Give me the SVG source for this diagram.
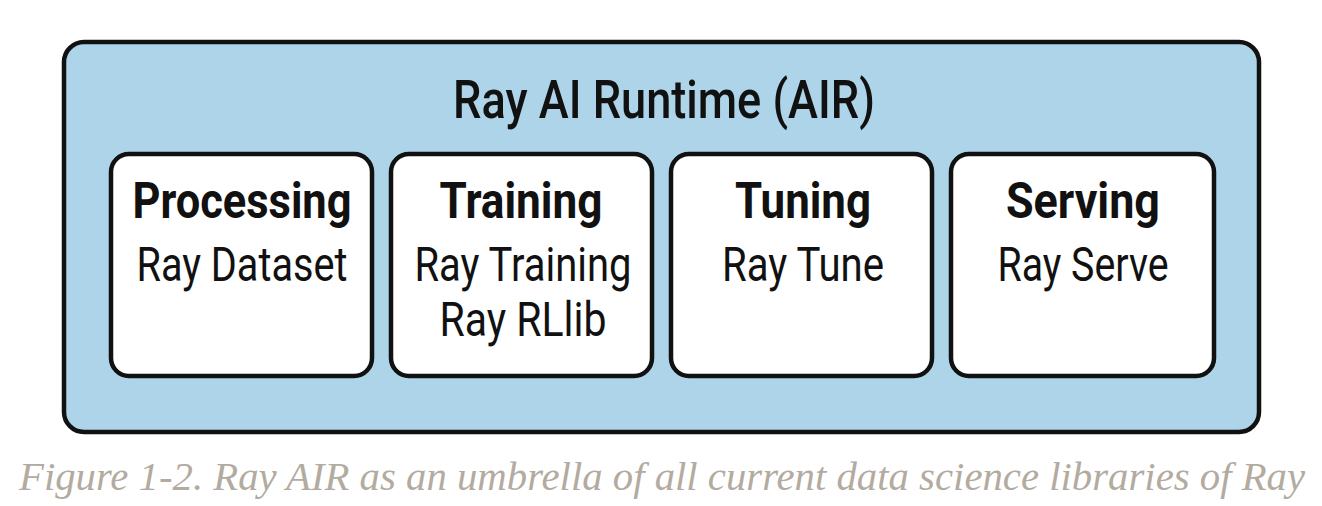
<svg xmlns="http://www.w3.org/2000/svg" width="1322" height="506" viewBox="0 0 1322 506">
<style>
.outer{fill:#aed4ea;stroke:#111;stroke-width:4.5}
.box{fill:#fff;stroke:#111;stroke-width:4.5}
.t{font-family:Roboto,"Liberation Sans",sans-serif;fill:#111;text-anchor:middle}
.title{font-size:54px;font-weight:500}
.h{font-size:50px;font-weight:700}
.s{font-size:48px;font-weight:400}
.cap{font-family:"Liberation Serif","DejaVu Serif",serif;font-style:italic;font-size:40px;fill:#b3aba0}
</style>
<rect width="1322" height="506" fill="#fff"/>
<g id="air">
<rect class="outer" x="64" y="42" width="1195" height="390" rx="20"/>
<text class="t title" x="664" y="118" textLength="422" lengthAdjust="spacingAndGlyphs">Ray AI Runtime (AIR)</text>
</g>
<g id="processing">
<rect class="box" x="111" y="154" width="261" height="222" rx="18"/>
<text class="t h" x="242" y="218" textLength="219" lengthAdjust="spacingAndGlyphs">Processing</text>
<text class="t s" x="242" y="281" textLength="211" lengthAdjust="spacingAndGlyphs">Ray Dataset</text>
</g>
<g id="training">
<rect class="box" x="391" y="154" width="261" height="222" rx="18"/>
<text class="t h" x="521" y="218" textLength="163" lengthAdjust="spacingAndGlyphs">Training</text>
<text class="t s" x="523" y="281" textLength="217" lengthAdjust="spacingAndGlyphs">Ray Training</text>
<text class="t s" x="523" y="336" textLength="167" lengthAdjust="spacingAndGlyphs">Ray RLlib</text>
</g>
<g id="tuning">
<rect class="box" x="671" y="154" width="261" height="222" rx="18"/>
<text class="t h" x="803" y="218" textLength="136" lengthAdjust="spacingAndGlyphs">Tuning</text>
<text class="t s" x="803" y="281" textLength="162" lengthAdjust="spacingAndGlyphs">Ray Tune</text>
</g>
<g id="serving">
<rect class="box" x="951" y="154" width="263" height="222" rx="18"/>
<text class="t h" x="1083" y="218" textLength="154" lengthAdjust="spacingAndGlyphs">Serving</text>
<text class="t s" x="1083" y="281" textLength="171" lengthAdjust="spacingAndGlyphs">Ray Serve</text>
</g>
<g id="connectors"></g>
<text class="cap" x="19" y="490" textLength="1286" lengthAdjust="spacingAndGlyphs">Figure 1-2. Ray AIR as an umbrella of all current data science libraries of Ray</text>
</svg>
